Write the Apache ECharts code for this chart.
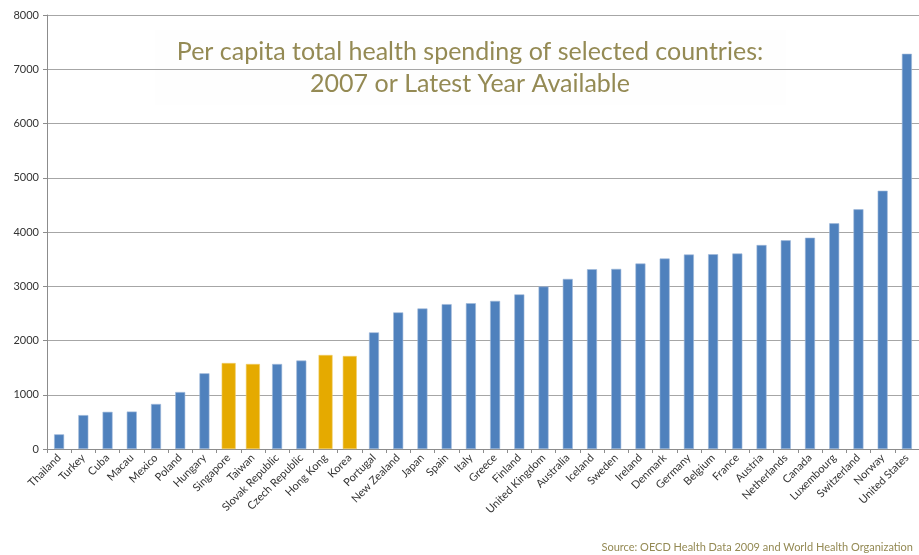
<!DOCTYPE html>
<html><head><meta charset="utf-8">
<script src="https://cdn.jsdelivr.net/npm/echarts@6/dist/echarts.min.js"></script>
<style>html,body{margin:0;padding:0;background:#fff}#c{width:919px;height:555px}</style>
</head><body><div id="c"></div>
<script>
const countries = ["Thailand","Turkey","Cuba","Macau","Mexico","Poland","Hungary","Singapore","Taiwan","Slovak Republic","Czech Republic","Hong Kong","Korea","Portugal","New Zealand","Japan","Spain","Italy","Greece","Finland","United Kingdom","Australia","Iceland","Sweden","Ireland","Denmark","Germany","Belgium","France","Austria","Netherlands","Canada","Luxembourg","Switzerland","Norway","United States"];
const spending = [270,625,685,690,830,1050,1395,1585,1567,1567,1630,1733,1714,2150,2518,2590,2670,2687,2730,2850,2995,3135,3314,3320,3419,3511,3585,3590,3604,3760,3847,3895,4160,4418,4761,7285];
const highlighted = ["Singapore","Taiwan","Hong Kong","Korea"];
const yTicks = [0,1000,2000,3000,4000,5000,6000,7000,8000];
const titleLines = ["Per capita total health spending of selected countries:","2007 or Latest Year Available"];
const sourceText = "Source: OECD Health Data 2009 and World Health Organization";

const blueData = countries.map((c,i)=> highlighted.includes(c) ? null : spending[i]);
const goldData = countries.map((c,i)=> highlighted.includes(c) ? spending[i] : null);

const chart = echarts.init(document.getElementById('c'));
const font = 'Lato';
chart.setOption({
  backgroundColor:'#ffffff',
  animation:false,
  grid:{left:47,right:-5,top:15,bottom:106,containLabel:false},
  xAxis:[{
    type:'category', data:countries, boundaryGap:true,
    axisLine:{lineStyle:{color:'#8c8c8c',width:1}},
    axisTick:{show:true,length:4,lineStyle:{color:'#8c8c8c'}},
    axisLabel:{rotate:45,interval:0,fontFamily:font,fontSize:11,color:'#333',margin:7}
  },{
    type:'category', data:countries, position:'bottom', show:false
  }],
  yAxis:{
    type:'value', min:yTicks[0], max:yTicks[yTicks.length-1], interval:1000,
    axisLine:{show:true,lineStyle:{color:'#8c8c8c'}},
    axisTick:{show:true,length:4,lineStyle:{color:'#8c8c8c'}},
    axisLabel:{fontFamily:font,fontSize:11,color:'#333',margin:8,formatter:v=>String(v)},
    splitLine:{lineStyle:{color:'#a6a6a6',width:1}}
  },
  series:[{
    type:'bar', xAxisIndex:0, data:blueData, barWidth:10,
    itemStyle:{color:'#4F81BD',borderColor:'#9fb9da',borderWidth:0.6}
  },{
    type:'bar', xAxisIndex:1, data:goldData, barWidth:14,
    itemStyle:{color:'#E5AA00',borderColor:'#f0cc66',borderWidth:0.6}
  }],
  graphic:[{
    type:'rect', shape:{x:155,y:30,width:631,height:75}, style:{fill:'#fefefe'}, z:0, zlevel:0
  },{
    type:'text', x:470, y:52, style:{text:titleLines[0],fill:'#948A54',font:'25px '+font,textAlign:'center',textVerticalAlign:'middle'}, z:1
  },{
    type:'text', x:470, y:84, style:{text:titleLines[1],fill:'#948A54',font:'25px '+font,textAlign:'center',textVerticalAlign:'middle'}, z:1
  },{
    type:'text', x:913, y:547, style:{text:sourceText,fill:'#948A54',font:'11px '+font,textAlign:'right',textVerticalAlign:'middle'}, z:1
  }]
});
</script></body></html>
